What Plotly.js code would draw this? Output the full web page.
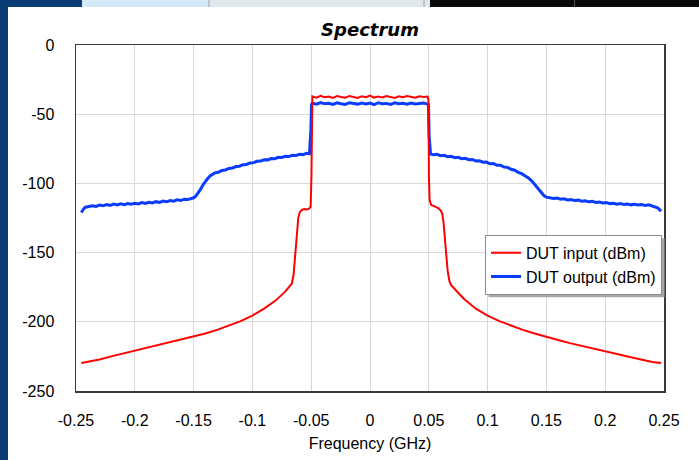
<!DOCTYPE html>
<html>
<head>
<meta charset="utf-8">
<script src="https://cdn.plot.ly/plotly-3.0.1.min.js"></script>
<style>
  html, body { margin:0; padding:0; background:#ffffff; }
  #wrap { position:relative; width:699px; height:460px; overflow:hidden; background:#ffffff; }
  #chart { position:absolute; left:0; top:0; width:699px; height:460px; }
  .deco { position:absolute; pointer-events:none; z-index:5; }
</style>
</head>
<body>
<div id="wrap">
  <div id="chart"></div>
  <div class="deco" style="left:0;top:0;width:8px;height:460px;background:#0b3c76;"></div>
  <div class="deco" style="left:0;top:0;width:82px;height:7px;background:#0b3c76;"></div>
  <div class="deco" style="left:82px;top:0;width:126px;height:7px;background:#d5e8f7;"></div>
  <div class="deco" style="left:208px;top:0;width:2px;height:7px;background:#b9c5d1;"></div>
  <div class="deco" style="left:210px;top:0;width:213px;height:7px;background:#e0e7ef;"></div>
  <div class="deco" style="left:423px;top:0;width:2px;height:7px;background:#b9c5d1;"></div>
  <div class="deco" style="left:425px;top:0;width:5px;height:7px;background:#e0e7ef;"></div>
  <div class="deco" style="left:430px;top:0;width:269px;height:7px;background:#0a0a0a;"></div>
  <div class="deco" style="left:574px;top:0;width:1px;height:7px;background:#555555;"></div>
</div>
<script>
// ---- Data ----
const seriesNames = ["DUT input (dBm)", "DUT output (dBm)"];

const inputFreq = [
  -0.2455, -0.24, -0.23, -0.22, -0.21, -0.2, -0.19, -0.18, -0.17, -0.16, -0.15,
  -0.14, -0.13, -0.12, -0.11, -0.1, -0.09, -0.08, -0.072, -0.0665, -0.065, -0.064,
  -0.063, -0.062, -0.061, -0.0598, -0.058, -0.056, -0.054, -0.052, -0.0505, -0.0498,
  -0.0493,
  -0.049, -0.0455, -0.042, -0.0385, -0.035, -0.0315, -0.028, -0.0245, -0.021, -0.0175,
  -0.014, -0.0105, -0.007, -0.0035, 0, 0.0035, 0.007, 0.0105, 0.014, 0.0175, 0.021,
  0.0245, 0.028, 0.0315, 0.035, 0.0385, 0.042, 0.0455, 0.049,
  0.0497, 0.0501, 0.0507, 0.052, 0.054, 0.056, 0.058, 0.06, 0.0615, 0.0625, 0.0635,
  0.0648, 0.066, 0.0675, 0.069, 0.075, 0.08, 0.09, 0.1, 0.11, 0.12, 0.13, 0.14, 0.15,
  0.16, 0.17, 0.18, 0.19, 0.2, 0.21, 0.22, 0.23, 0.24, 0.2475
];
const inputLevel = [
  -229.8, -229.0, -227.2, -225.0, -223.0, -221.0, -219.0, -217.0, -215.0, -213.0, -211.0,
  -208.5, -205.8, -202.8, -199.5, -195.5, -190.5, -184.5, -178.0, -172.5, -166.0, -156.0,
  -143.0, -132.0, -125.0, -121.0, -119.2, -118.6, -118.8, -118.4, -117.0, -95.0,
  -40.0,
  -37.1, -38.0, -36.7, -37.8, -37.2, -38.3, -36.9, -37.6, -38.1, -36.8,
  -37.5, -38.2, -37.0, -37.7, -36.6, -38.0, -37.3, -37.9, -36.9, -37.6, -38.2,
  -37.1, -37.8, -36.8, -37.5, -38.1, -37.0, -37.6, -37.3,
  -40.0, -95.0, -112.0, -115.5, -116.2, -116.8, -117.8, -119.5, -122.0, -128.0, -138.0,
  -152.0, -163.0, -170.5, -173.5, -179.0, -183.5, -190.5, -195.5, -199.5, -202.8, -205.8, -208.5, -211.0,
  -213.2, -215.4, -217.5, -219.5, -221.3, -223.3, -225.3, -227.3, -229.0, -229.8
];

const outputFreq = [
  -0.2455, -0.2445, -0.2435, -0.242, -0.239, -0.236, -0.233, -0.23, -0.227, -0.224,
  -0.221, -0.218, -0.215, -0.212, -0.209, -0.206, -0.203, -0.2, -0.197, -0.194,
  -0.191, -0.188, -0.185, -0.182, -0.179, -0.176, -0.173, -0.17, -0.167, -0.164,
  -0.161, -0.158, -0.155, -0.152, -0.15, -0.148, -0.146, -0.144, -0.142, -0.14,
  -0.138, -0.136, -0.134, -0.132, -0.129, -0.126, -0.123, -0.12, -0.117, -0.114,
  -0.111, -0.108, -0.105, -0.102, -0.099, -0.096, -0.093, -0.09, -0.087, -0.084,
  -0.081, -0.078, -0.075, -0.072, -0.069, -0.066, -0.063, -0.06, -0.057, -0.054,
  -0.0515, -0.0503, -0.0497,
  -0.049, -0.0455, -0.042, -0.0385, -0.035, -0.0315, -0.028, -0.0245, -0.021, -0.0175,
  -0.014, -0.0105, -0.007, -0.0035, 0, 0.0035, 0.007, 0.0105, 0.014, 0.0175, 0.021,
  0.0245, 0.028, 0.0315, 0.035, 0.0385, 0.042, 0.0455, 0.049,
  0.0497, 0.0503, 0.0515, 0.054, 0.057, 0.06, 0.063, 0.066, 0.069, 0.072,
  0.075, 0.078, 0.081, 0.084, 0.087, 0.09, 0.093, 0.096, 0.099, 0.102,
  0.105, 0.108, 0.111, 0.114, 0.117, 0.12, 0.123, 0.126, 0.129, 0.132,
  0.135, 0.138, 0.14, 0.142, 0.144, 0.146, 0.148, 0.15, 0.153, 0.156,
  0.159, 0.162, 0.165, 0.168, 0.171, 0.174, 0.177, 0.18, 0.183, 0.186,
  0.189, 0.192, 0.195, 0.198, 0.201, 0.204, 0.207, 0.21, 0.213, 0.216,
  0.219, 0.222, 0.225, 0.228, 0.231, 0.234, 0.237, 0.24, 0.2425, 0.2445,
  0.246, 0.2475
];
const outputLevel = [
  -121.0, -119.2, -118.4, -117.2, -116.8, -116.1, -116.6, -115.7, -116.2, -115.3,
  -115.9, -115.0, -115.6, -114.8, -115.4, -114.5, -115.1, -114.3, -114.9, -113.9,
  -114.5, -113.6, -114.1, -113.2, -113.7, -112.8, -113.3, -112.4, -112.9, -111.9,
  -112.4, -111.4, -111.7, -110.8, -110.4, -109.0, -107.0, -104.2, -101.0, -98.4,
  -96.5, -94.6, -93.7, -92.4, -91.9, -90.7, -90.3, -89.2, -88.9, -87.8,
  -87.6, -86.5, -86.3, -85.2, -85.0, -84.0, -83.9, -82.9, -83.0, -82.0,
  -82.1, -81.1, -81.3, -80.4, -80.6, -79.6, -79.9, -79.0, -79.2, -78.3,
  -78.6, -62.0, -43.0,
  -42.0, -42.8, -41.6, -42.5, -42.1, -43.0, -41.8, -42.4, -42.9, -41.7,
  -42.3, -42.7, -41.9, -42.6, -42.0, -43.1, -41.7, -42.4, -42.2, -42.9, -41.8,
  -42.5, -42.1, -42.8, -41.9, -42.6, -42.3, -42.0, -42.7,
  -43.0, -66.0, -78.8, -79.3, -79.0, -80.0, -79.7, -80.7, -80.4, -81.4,
  -81.1, -82.1, -81.9, -82.9, -82.7, -83.8, -83.6, -84.7, -84.6, -85.8,
  -85.7, -86.9, -86.9, -88.2, -88.4, -89.8, -90.5, -92.0, -93.0, -94.6,
  -96.3, -98.7, -100.8, -103.0, -105.3, -107.4, -108.9, -109.9, -110.2, -110.9,
  -110.6, -111.4, -111.1, -111.9, -111.6, -112.4, -112.1, -112.9, -112.5, -113.3,
  -113.0, -113.8, -113.4, -114.2, -113.9, -114.6, -114.3, -115.0, -114.6, -115.3,
  -114.9, -115.5, -115.1, -115.6, -115.3, -115.9, -115.5, -116.2, -116.6, -117.6,
  -118.8, -120.2
];

const xTickVals = [-0.25, -0.2, -0.15, -0.1, -0.05, 0, 0.05, 0.1, 0.15, 0.2, 0.25];
const xTickText = ["-0.25", "-0.2", "-0.15", "-0.1", "-0.05", "0", "0.05", "0.1", "0.15", "0.2", "0.25"];
const yTickVals = [0, -50, -100, -150, -200, -250];
const yTickText = ["0", "-50", "-100", "-150", "-200", "-250"];

// ---- Chart ----
const baseFont = "Liberation Sans, Arial, sans-serif";

const traces = [
  {
    x: outputFreq, y: outputLevel, type: "scatter", mode: "lines",
    name: seriesNames[1], legendrank: 2, legendgroup: "b",
    line: { color: "#0a3cff", width: 3 }
  },
  {
    x: inputFreq, y: inputLevel, type: "scatter", mode: "lines",
    name: seriesNames[0], legendrank: 1, legendgroup: "a",
    line: { color: "#ff0000", width: 2 }
  }
];

const axisCommon = {
  showgrid: true, gridcolor: "#d9d9d9", gridwidth: 1,
  zeroline: false, showline: true, linecolor: "#3a3a3a", linewidth: 1.5,
  mirror: true, ticks: "", tickmode: "array",
  tickfont: { family: baseFont, size: 16, color: "#000000" }
};

const layout = {
  width: 699, height: 460,
  margin: { l: 76, r: 35, t: 45, b: 69, pad: 0 },
  paper_bgcolor: "#ffffff", plot_bgcolor: "#ffffff",
  showlegend: true,
  title: {
    text: "Spectrum",
    font: { family: "DejaVu Sans, sans-serif", size: 18, weight: "bold", style: "italic", color: "#000000" },
    x: 0.5, xref: "paper", xanchor: "center",
    y: 0.935, yref: "container", yanchor: "middle"
  },
  xaxis: Object.assign({}, axisCommon, {
    range: [-0.25, 0.25], tickvals: xTickVals, ticktext: xTickText,
    ticklabelstandoff: 14,
    title: { text: "Frequency (GHz)", font: { family: baseFont, size: 16, color: "#000000" }, standoff: 10 },
    automargin: false
  }),
  yaxis: Object.assign({}, axisCommon, {
    range: [-250, 0], tickvals: yTickVals, ticktext: yTickText,
    ticklabelstandoff: 17, automargin: false
  }),
  legend: {
    x: 0.6956, y: 0.4515, xanchor: "left", yanchor: "top",
    bgcolor: "#ffffff", bordercolor: "#8c8c8c", borderwidth: 1,
    font: { family: baseFont, size: 16, color: "#000000" },
    traceorder: "grouped", tracegroupgap: 0
  }
};

Plotly.newPlot("chart", traces, layout, { staticPlot: true, displayModeBar: false }).then(function (gd) {
  // Drop shadow behind the legend box, placed from the legend's rendered box.
  const bg = gd.querySelector(".legend .bg");
  if (!bg) return;
  const rb = bg.getBoundingClientRect();
  const rc = gd.getBoundingClientRect();
  const sz = gd._fullLayout._size;
  const off = 3;
  const left = rb.left - rc.left + off, right = rb.right - rc.left + off;
  const top = rb.top - rc.top + off, bottom = rb.bottom - rc.top + off;
  const shadow = {
    type: "rect", xref: "paper", yref: "paper", layer: "above",
    x0: (left - sz.l) / sz.w, x1: (right - sz.l) / sz.w,
    y0: 1 - (bottom - sz.t) / sz.h, y1: 1 - (top - sz.t) / sz.h,
    fillcolor: "#a8a8a8", line: { width: 0 }
  };
  return Plotly.relayout(gd, { shapes: [shadow] });
});
</script>
</body>
</html>
